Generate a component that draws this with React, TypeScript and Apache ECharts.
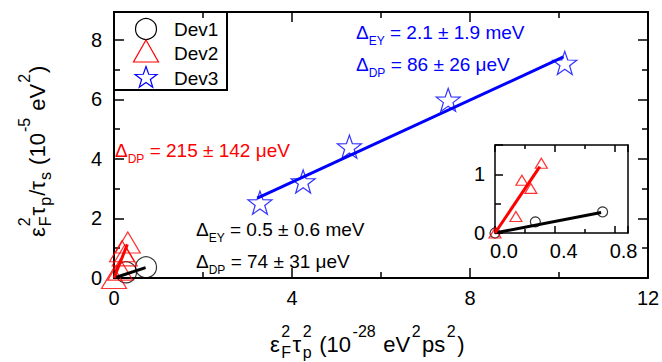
import React, { useEffect, useRef } from 'react';
import * as echarts from 'echarts';

const FONT = '"Liberation Sans", Arial, Helvetica, sans-serif';
const BLUE = '#0000FF';
const RED = '#FF0000';
const BLACK = '#000000';

// ---------- data ----------
const seriesNames = ['Dev1', 'Dev2', 'Dev3'];
const dev1Points = [[0, 0], [0.27, 0.19], [0.72, 0.36]];
const dev1MainPoints = [[0.27, 0.19], [0.72, 0.36]];
const dev2Points = [[0, 0], [0.14, 0.28], [0.18, 0.9], [0.24, 0.76], [0.31, 1.19]];
const dev3Points = [[3.28, 2.53], [4.25, 3.24], [5.29, 4.41], [7.51, 5.98], [10.13, 7.22]];
const dev1Fit = [[0, 0], [0.71, 0.35]];
const dev2Fit = [[0, 0], [0.3, 1.13]];
const dev3Fit = [[3.22, 2.68], [10.1, 7.42]];

const mainXRange = [0, 12];
const mainYRange = [0, 8.93];
const insetXRange = [0, 0.89];
const insetYRange = [0, 1.5];

const annotationSubs = ['EY', 'DP', 'DP', 'EY', 'DP'];
const annotationValues = [' = 2.1 ± 1.9 meV', ' = 86 ± 26 μeV', ' = 215 ± 142 μeV', ' = 0.5 ± 0.6 meV', ' = 74 ± 31 μeV'];
const annotationColors = [BLUE, BLUE, RED, BLACK, BLACK];

type Seg = { t?: string; sup?: string; sub?: string };
const xTitleSegs: Seg[] = [
  { t: 'ε' }, { sup: '2', sub: 'F' }, { t: 'τ' }, { sup: '2', sub: 'p' },
  { t: ' (10' }, { sup: '-28' }, { t: ' eV' }, { sup: '2' }, { t: 'ps' }, { sup: '2' }, { t: ')' },
];
const yTitleSegs: Seg[] = [
  { t: 'ε' }, { sup: '2', sub: 'F' }, { t: 'τ' }, { sub: 'p' }, { t: '/τ' }, { sub: 's' },
  { t: ' (10' }, { sup: '-5' }, { t: ' eV' }, { sup: '2' }, { t: ')' },
];

// ---------- layout constants ----------
const MAIN = { left: 114, top: 12, width: 534, height: 266 };
const INSET = { left: 495, top: 145, width: 133, height: 88 };
const annotationPos = [[356, 39], [356, 71], [115, 157], [196, 236], [196, 268]];

const STAR =
  'path://M50 0 L61.76 33.82 L97.55 34.55 L69.02 56.18 L79.39 90.45 L50 70 L20.61 90.45 L30.98 56.18 L2.45 34.55 L38.24 33.82 Z';

let measureCtx: CanvasRenderingContext2D | null = null;
function textWidth(t: string, size: number) {
  if (!measureCtx) measureCtx = document.createElement('canvas').getContext('2d');
  measureCtx!.font = `${size}px ${FONT}`;
  return measureCtx!.measureText(t).width;
}

function buildTitle(segs: Seg[], fs: number, sfs: number, rise: number, drop: number, gap: number) {
  const kids: any[] = [];
  let x = 0;
  const put = (t: string, px: number, base: number, size: number) =>
    kids.push({
      type: 'text',
      x: px,
      y: base - 0.35 * size,
      style: { text: t, fontSize: size, fontFamily: FONT, fill: '#000', verticalAlign: 'middle', align: 'left' },
    });
  segs.forEach((s) => {
    if (s.t) {
      put(s.t, x, 0, fs);
      x += textWidth(s.t, fs) + gap;
    } else {
      let w = 0;
      if (s.sup) {
        put(s.sup, x, -rise, sfs);
        w = Math.max(w, textWidth(s.sup, sfs));
      }
      if (s.sub) {
        put(s.sub, x, drop, sfs);
        w = Math.max(w, textWidth(s.sub, sfs));
      }
      x += w + gap;
    }
  });
  return kids;
}

function starPoints(cx: number, cy: number, R: number, r: number) {
  const pts: number[][] = [];
  for (let i = 0; i < 10; i++) {
    const a = -Math.PI / 2 + (i * Math.PI) / 5;
    const rad = i % 2 === 0 ? R : r;
    pts.push([cx + rad * Math.cos(a), cy + rad * Math.sin(a)]);
  }
  return pts;
}

function axisCommon(lineWidth: number, tickLen: number, minorLen: number) {
  return {
    type: 'value',
    axisLine: { show: true, onZero: false, lineStyle: { color: '#000', width: lineWidth } },
    axisTick: { show: true, inside: true, length: tickLen, lineStyle: { color: '#000', width: 1.5 } },
    minorTick: { show: true, splitNumber: 2, length: minorLen, lineStyle: { color: '#000', width: 1.5 } },
    splitLine: { show: false },
    minorSplitLine: { show: false },
  };
}

const labelStyle = { color: '#000', fontSize: 20, fontFamily: FONT };

export default function App() {
  const ref = useRef<HTMLDivElement>(null);
  useEffect(() => {
    document.body.style.margin = '0';
    const chart = echarts.init(ref.current!, null, { renderer: 'svg' });

    const legendItems = [
      { type: 'rect', shape: { x: 114, y: 12, width: 113, height: 78 }, style: { fill: '#fff', stroke: '#000', lineWidth: 2 } },
      { type: 'circle', shape: { cx: 146, cy: 29, r: 10.5 }, style: { fill: 'none', stroke: BLACK, lineWidth: 1.2 } },
      { type: 'polygon', shape: { points: [[146, 40], [158.5, 62], [133.5, 62]] }, style: { fill: 'none', stroke: RED, lineWidth: 1.2 } },
      { type: 'polygon', shape: { points: starPoints(146, 78, 11.5, 4.6) }, style: { fill: 'none', stroke: BLUE, lineWidth: 1.2 } },
      ...seriesNames.map((n, i) => ({
        type: 'text',
        x: 174,
        y: [29.5, 53.5, 78.5][i],
        style: { text: n, fontSize: 19, fontFamily: FONT, fill: '#000', verticalAlign: 'middle' },
      })),
    ];

    const annotations = annotationSubs.map((sub, i) => ({
      type: 'text',
      x: annotationPos[i][0],
      y: annotationPos[i][1] - 22,
      style: {
        text: `{d|Δ}{s|${sub}}{n|${annotationValues[i]}}`,
        fill: annotationColors[i],
        verticalAlign: 'top',
        rich: {
          d: { fontSize: 19, lineHeight: 30, fontFamily: FONT, fill: annotationColors[i] },
          s: { fontSize: 12, verticalAlign: 'bottom', fontFamily: FONT, fill: annotationColors[i] },
          n: { fontSize: 19, lineHeight: 30, fontFamily: FONT, fill: annotationColors[i] },
        },
      },
    }));

    const hollow = (c: string) => ({ color: 'rgba(0,0,0,0)', borderColor: c, borderWidth: 1.2 });

    chart.setOption({
      animation: false,
      backgroundColor: '#fff',
      grid: [
        { ...MAIN, outerBoundsMode: 'none', containLabel: false },
        { ...INSET, outerBoundsMode: 'none', containLabel: false, show: true, backgroundColor: '#fff', borderWidth: 0 },
      ],
      xAxis: [
        {
          ...axisCommon(2, 10, 6), gridIndex: 0, position: 'bottom', min: mainXRange[0], max: mainXRange[1], interval: 4,
          axisLabel: { ...labelStyle, margin: 10 },
        },
        {
          ...axisCommon(2, 10, 6), gridIndex: 0, position: 'top', min: mainXRange[0], max: mainXRange[1], interval: 4,
          axisLabel: { show: false },
        },
        {
          ...axisCommon(1.5, 7, 4), gridIndex: 1, position: 'bottom', min: insetXRange[0], max: insetXRange[1], interval: 0.4,
          axisLabel: {
            ...labelStyle, margin: 8, showMaxLabel: false,
            formatter: (v: number) => `{s| }{v|${v.toFixed(1)}}`,
            rich: { s: { width: 18, fontSize: 20 }, v: { ...labelStyle } },
          },
        },
        {
          ...axisCommon(1.5, 7, 4), gridIndex: 1, position: 'top', min: insetXRange[0], max: insetXRange[1], interval: 0.4,
          axisLabel: { show: false },
        },
      ],
      yAxis: [
        {
          ...axisCommon(2, 10, 6), gridIndex: 0, position: 'left', min: mainYRange[0], max: mainYRange[1], interval: 2,
          axisLabel: { ...labelStyle, margin: 12, showMaxLabel: false },
        },
        {
          ...axisCommon(2, 10, 6), gridIndex: 0, position: 'right', min: mainYRange[0], max: mainYRange[1], interval: 2,
          axisLabel: { show: false },
        },
        {
          ...axisCommon(1.5, 8, 6), gridIndex: 1, position: 'left', min: insetYRange[0], max: insetYRange[1], interval: 1,
          axisLabel: { ...labelStyle, margin: 10, showMaxLabel: false },
        },
        {
          ...axisCommon(1.5, 8, 6), gridIndex: 1, position: 'right', min: insetYRange[0], max: insetYRange[1], interval: 1,
          axisTick: { show: false }, minorTick: { show: false }, axisLabel: { show: false },
        },
      ],
      series: [
        { name: seriesNames[0], type: 'scatter', xAxisIndex: 0, yAxisIndex: 0, symbol: 'circle', symbolSize: 21, itemStyle: hollow(BLACK), data: dev1MainPoints, z: 2 },
        { name: seriesNames[1], type: 'scatter', xAxisIndex: 0, yAxisIndex: 0, symbol: 'triangle', symbolSize: [25, 21], itemStyle: hollow(RED), data: dev2Points, z: 2 },
        { name: seriesNames[2], type: 'scatter', xAxisIndex: 0, yAxisIndex: 0, symbol: STAR, symbolSize: [24, 23], itemStyle: hollow(BLUE), data: dev3Points, z: 2 },
        { type: 'line', xAxisIndex: 0, yAxisIndex: 0, data: dev1Fit, symbol: 'none', lineStyle: { color: BLACK, width: 3 }, z: 3 },
        { type: 'line', xAxisIndex: 0, yAxisIndex: 0, data: dev2Fit, symbol: 'none', lineStyle: { color: RED, width: 3 }, z: 3 },
        { type: 'line', xAxisIndex: 0, yAxisIndex: 0, data: dev3Fit, symbol: 'none', lineStyle: { color: BLUE, width: 3 }, z: 3 },
        { name: seriesNames[0], type: 'scatter', xAxisIndex: 2, yAxisIndex: 2, symbol: 'circle', symbolSize: 10, itemStyle: hollow(BLACK), data: dev1Points, z: 2 },
        { name: seriesNames[1], type: 'scatter', xAxisIndex: 2, yAxisIndex: 2, symbol: 'triangle', symbolSize: [12, 10], itemStyle: hollow(RED), data: dev2Points, z: 2 },
        { type: 'line', xAxisIndex: 2, yAxisIndex: 2, data: dev1Fit, symbol: 'none', lineStyle: { color: BLACK, width: 3 }, z: 3 },
        { type: 'line', xAxisIndex: 2, yAxisIndex: 2, data: dev2Fit, symbol: 'none', lineStyle: { color: RED, width: 3 }, z: 3 },
      ],
      graphic: [
        { type: 'group', z: 100, children: legendItems },
        { type: 'group', z: 50, children: annotations },
        { type: 'group', z: 50, x: 270, y: 352, children: buildTitle(xTitleSegs, 22, 16, 15, 6, 1.5) },
        { type: 'group', z: 50, x: 45, y: 237, rotation: Math.PI / 2, children: buildTitle(yTitleSegs, 22, 16, 15, 6, 1) },
      ],
    });
    return () => chart.dispose();
  }, []);
  return <div ref={ref} style={{ width: 662, height: 362 }} />;
}
